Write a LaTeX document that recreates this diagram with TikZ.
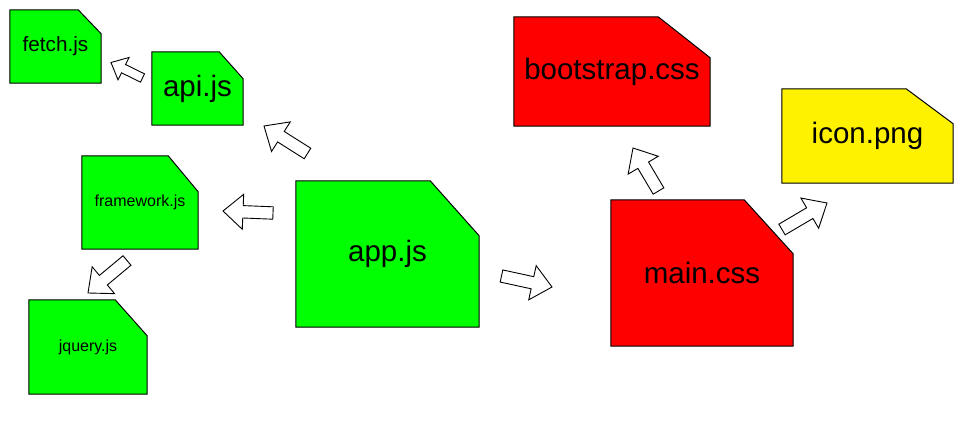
\documentclass[tikz,border=0pt]{standalone}
\usepackage{fontspec}
\setmainfont{Liberation Sans}
\usetikzlibrary{calc,backgrounds}

% hollow block arrow from #1 (tail) to #2 (tip): half shaft, half head, head length
\newcommand{\blockarrow}[5]{%
  \coordinate (hb) at ($(#2)!#5!(#1)$);
  \draw[barrow] ($(#1)!#3!90:(#2)$) -- ($(hb)!#3!90:(#2)$) -- ($(hb)!#4!90:(#2)$) -- (#2)
    -- ($(hb)!#4!-90:(#2)$) -- ($(hb)!#3!-90:(#2)$) -- ($(#1)!#3!-90:(#2)$) -- cycle;
}

\begin{document}
\begin{tikzpicture}[x=1pt, y=-1pt,
    file/.style={inner sep=0pt},
    big/.style={font=\fontsize{29.5}{34}\selectfont},
    barrow/.style={draw=black, fill=white, line width=0.9pt, line join=miter}]
  \useasboundingbox (0,0) rectangle (962,428);

  % files
  \node[file, minimum width=91, minimum height=73, font=\fontsize{20.7}{24}\selectfont] (fetch) at (55.5,46.5) {fetch.js};
  \node[file, big, minimum width=91, minimum height=73] (api) at (197.5,88.5) {api.js};
  \node[file, minimum width=116, minimum height=93, font=\fontsize{16}{19}\selectfont] (framework) at (140,202.5) {framework.js};
  \node[file, minimum width=118, minimum height=94, font=\fontsize{16}{19}\selectfont] (jquery) at (88,347) {jquery.js};
  \node[file, big, minimum width=183, minimum height=146] (app) at (387.5,254) {app.js};
  \node[file, big, minimum width=196, minimum height=109] (bootstrap) at (612,71.5) {bootstrap.css};
  \node[file, big, minimum width=182, minimum height=146] (main) at (702,273) {main.css};
  \node[file, big, minimum width=171, minimum height=94] (icon) at (867.5,136) {icon.png};

  \begin{scope}[on background layer]
    \foreach \n/\c/\dx/\dy in {fetch/green/23/24, api/green/24/27, framework/green/30/36,
        jquery/green/32/36, app/green/49/55, bootstrap/red/52/41, main/red/49/54, icon/yellow/47/35}
      \filldraw[fill=\c, line width=1pt] (\n.south west) -- (\n.north west)
        -- ([xshift=-\dx pt]\n.north east) -- ([yshift=-\dy pt]\n.north east) -- (\n.south east) -- cycle;
  \end{scope}

  % arrows
  \coordinate (tofetch-s) at (142.5,78);   \coordinate (tofetch-e) at (111,62.5);
  \coordinate (toapi-s) at (307.5,153.5);  \coordinate (toapi-e) at (264,126);
  \coordinate (tofw-s) at (273,213);       \coordinate (tofw-e) at (223,211);
  \coordinate (tojq-s) at (127,260.5);     \coordinate (tojq-e) at (88,293);
  \coordinate (tomain-s) at (501.5,276);   \coordinate (tomain-e) at (552,287);
  \coordinate (tobs-s) at (658.5,191);     \coordinate (tobs-e) at (633,148);
  \coordinate (toicon-s) at (782,229.5);   \coordinate (toicon-e) at (827,203);

  \blockarrow{tofetch-s}{tofetch-e}{4.6pt}{12.5pt}{14pt}
  \blockarrow{toapi-s}{toapi-e}{6.2pt}{17.5pt}{20pt}
  \blockarrow{tofw-s}{tofw-e}{6.2pt}{17.5pt}{20pt}
  \blockarrow{tojq-s}{tojq-e}{6.2pt}{17.5pt}{20pt}
  \blockarrow{tomain-s}{tomain-e}{6.2pt}{17.5pt}{20pt}
  \blockarrow{tobs-s}{tobs-e}{6.2pt}{17.5pt}{20pt}
  \blockarrow{toicon-s}{toicon-e}{6.2pt}{17.5pt}{20pt}
\end{tikzpicture}
\end{document}
